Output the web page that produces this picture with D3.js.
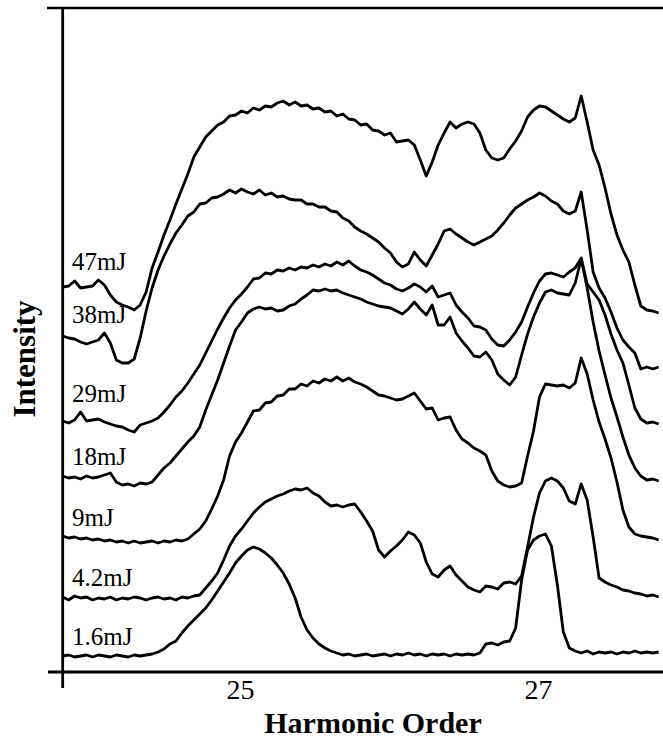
<!DOCTYPE html>
<html lang="en">
<head>
<meta charset="UTF-8" />
<title>Harmonic spectra vs. pulse energy</title>
<script src="https://d3js.org/d3.v7.min.js"></script>
<style>
  body { margin: 0; background: #fff; }
  svg { display: block; }
  text { font-family: "Liberation Serif", "Times New Roman", serif; fill: #000; }
</style>
</head>
<body>
<svg id="chart" width="663" height="741"></svg>
<script>
// harmonic order sample grid
const orders = [
  23.81,23.85,23.89,23.93,23.97,24.01,24.05,24.09,24.13,24.17,
  24.21,24.25,24.29,24.33,24.37,24.41,24.45,24.49,24.53,24.57,
  24.61,24.65,24.69,24.73,24.77,24.81,24.85,24.89,24.93,24.97,
  25.01,25.05,25.09,25.13,25.17,25.21,25.25,25.29,25.33,25.37,
  25.41,25.45,25.49,25.53,25.57,25.61,25.65,25.69,25.73,25.77,
  25.81,25.85,25.89,25.93,25.97,26.01,26.05,26.09,26.13,26.17,
  26.21,26.25,26.29,26.33,26.37,26.41,26.45,26.49,26.53,26.57,
  26.61,26.65,26.69,26.73,26.77,26.81,26.85,26.89,26.93,26.97,
  27.01,27.05,27.09,27.13,27.17,27.21,27.25,27.29,27.33,27.37,
  27.41,27.45,27.49,27.53,27.57,27.61,27.65,27.69,27.73,27.77,
  27.81
];

// intensity (arb. units, traces offset vertically as in the figure)
const s47 = [
  385,386,391,384,385,386,392,387,377,370,
  367,365,362,367,380,404,420,437,452,468,
  483,498,515,525,535,541,547,550,556,557,
  561,559,564,562,566,565,569,571,567,570,
  566,567,563,564,560,561,556,558,553,552,
  547,548,542,541,537,539,530,531,532,527,
  512,496,510,527,539,550,544,548,550,548,
  539,522,514,512,514,523,531,541,555,562,
  566,565,561,557,553,550,554,576,550,522,
  507,484,458,437,422,410,387,366,362,361,
  359
];
const s38 = [
  336,334,333,330,328,330,332,339,329,312,
  309,309,313,334,361,384,402,416,428,439,
  447,456,460,468,469,474,475,478,482,479,
  483,480,478,482,477,479,475,476,473,472,
  472,468,468,465,465,461,460,454,451,445,
  441,438,434,430,424,419,410,405,408,420,
  412,406,417,428,441,443,438,434,430,427,
  430,433,436,442,449,457,464,468,472,475,
  479,476,471,468,461,458,461,480,442,400,
  384,374,360,344,332,325,319,303,305,303,
  305
];
const s29 = [
  251,249,252,260,251,252,253,250,248,246,
  245,242,240,247,249,251,254,260,267,275,
  281,289,298,307,319,331,343,354,364,372,
  378,385,393,394,399,398,402,401,404,402,
  405,404,407,405,408,406,410,407,411,406,
  402,400,397,393,389,387,383,381,384,388,
  385,380,386,375,377,379,367,360,354,346,
  345,342,333,327,326,332,340,350,365,379,
  391,398,399,397,395,400,404,414,388,380,
  372,357,338,322,309,287,264,253,249,250,
  248
];
const s18 = [
  196,194,195,193,196,194,195,197,199,190,
  187,188,186,189,188,190,197,204,209,216,
  223,230,236,245,262,277,292,309,326,342,
  350,359,363,365,363,364,361,362,366,368,
  373,377,382,381,383,381,382,379,377,375,
  373,370,368,366,365,364,361,358,363,370,
  363,357,367,347,347,355,339,331,324,316,
  315,320,312,298,292,287,295,317,338,355,
  369,380,382,379,378,377,389,413,384,350,
  321,297,274,255,235,217,204,196,192,193,
  191
];
const s9 = [
  136,134,135,133,134,132,133,131,132,130,
  131,129,131,129,130,131,129,131,130,132,
  131,133,138,143,151,163,176,192,216,230,
  239,250,261,262,269,270,276,277,283,283,
  288,286,291,289,293,291,295,291,294,290,
  288,285,281,277,276,274,272,273,276,279,
  271,263,264,252,254,255,242,233,229,224,
  221,217,201,191,187,185,186,189,216,241,
  275,288,287,286,287,284,289,314,298,272,
  250,233,214,190,162,145,138,136,135,134,
  132
];
const s4_2 = [
  75,72,76,74,75,72,74,73,75,72,
  74,73,75,74,72,74,75,73,74,72,
  75,74,76,77,84,91,99,112,126,136,
  143,151,159,165,170,173,176,178,181,183,
  182,184,179,176,170,166,167,165,167,168,
  160,151,141,122,115,121,126,132,140,137,
  129,110,98,95,102,106,97,91,85,82,
  80,86,85,83,89,90,88,96,125,155,
  179,191,194,191,184,171,168,188,172,135,
  94,90,87,85,82,81,79,78,76,77,
  75
];
const s1_6 = [
  16,17,15,16,17,15,17,16,15,17,
  16,15,17,16,17,18,20,23,28,31,
  39,46,52,58,64,72,81,90,99,109,
  116,122,125,123,119,114,107,99,88,74,
  55,42,34,28,24,21,19,17,18,16,
  17,18,16,17,18,16,18,17,19,17,
  18,16,18,17,18,16,18,17,18,17,
  19,28,29,27,30,31,44,92,122,132,
  136,138,126,87,40,24,21,19,21,18,
  20,19,20,18,20,19,21,19,20,19,
  20
];

const energies = ["47mJ", "38mJ", "29mJ", "18mJ", "9mJ", "4.2mJ", "1.6mJ"];
const series = [s47, s38, s29, s18, s9, s4_2, s1_6];
const tickOrders = [25, 27];

const svg = d3.select("#chart");
const x = d3.scaleLinear().domain([25, 27]).range([240, 538]);
const y = d3.scaleLinear().domain([0, 664]).range([672, 8]);

const left = x(orders[0]);

// frame: top rule, left axis, bottom axis
svg.append("line")
  .attr("x1", 47).attr("x2", 663)
  .attr("y1", y(664)).attr("y2", y(664))
  .attr("stroke", "#000").attr("stroke-width", 2.6);
svg.append("line")
  .attr("x1", left).attr("x2", left)
  .attr("y1", y(664)).attr("y2", y(0) + 16)
  .attr("stroke", "#000").attr("stroke-width", 2.8);
svg.append("line")
  .attr("x1", 48).attr("x2", 663)
  .attr("y1", y(0)).attr("y2", y(0))
  .attr("stroke", "#000").attr("stroke-width", 2.8);

// tick labels
const xAxis = svg.append("g")
  .attr("transform", `translate(0,${y(0)})`)
  .call(d3.axisBottom(x).tickValues(tickOrders).tickFormat(d3.format("d"))
    .tickSize(0).tickPadding(7));
xAxis.select(".domain").remove();
xAxis.selectAll("text")
  .attr("font-size", 28)
  .attr("font-family", "Liberation Serif, Times New Roman, serif");

// spectra
const line = d3.line()
  .x((d, i) => x(orders[i]))
  .y(d => y(d));

svg.append("g")
  .selectAll("path")
  .data(series)
  .join("path")
  .attr("d", line)
  .attr("fill", "none")
  .attr("stroke", "#000")
  .attr("stroke-width", 2.8)
  .attr("stroke-linejoin", "round");

// energy labels, sat just above each trace's left end
svg.append("g")
  .selectAll("text")
  .data(series)
  .join("text")
  .attr("x", 72)
  .attr("y", d => y(d3.max(d.slice(0, 8))) - 10)
  .attr("font-size", 25)
  .text((d, i) => energies[i]);

// axis titles
svg.append("text")
  .attr("x", 373)
  .attr("y", 733)
  .attr("text-anchor", "middle")
  .attr("font-size", 30)
  .attr("font-weight", "bold")
  .text("Harmonic Order");

svg.append("text")
  .attr("transform", "translate(35,359) rotate(-90)")
  .attr("text-anchor", "middle")
  .attr("font-size", 31)
  .attr("font-weight", "bold")
  .text("Intensity");
</script>
</body>
</html>
